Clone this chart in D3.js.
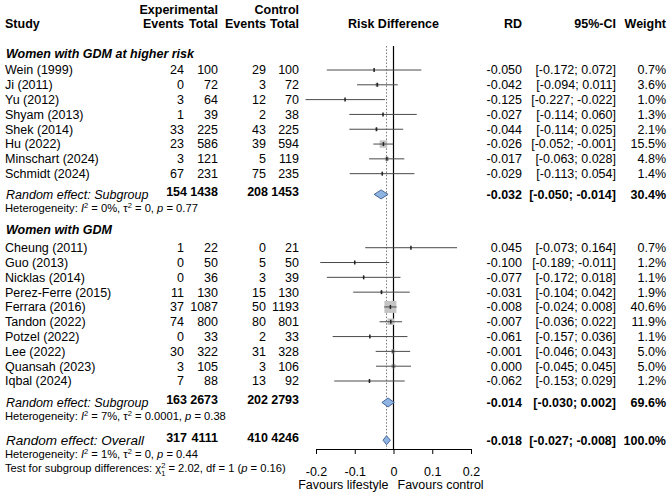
<!DOCTYPE html>
<html>
<head>
<meta charset="utf-8">
<script src="https://cdn.jsdelivr.net/npm/d3@7"></script>
<style>
body { margin: 0; background: #fff; }
svg { font-family: "Liberation Sans", Arial, Helvetica, sans-serif; font-size: 12.5px; }
</style>
</head>
<body>
<script>
// study level data
var studies = ["Wein (1999)", "Ji (2011)", "Yu (2012)", "Shyam (2013)", "Shek (2014)", "Hu (2022)", "Minschart (2024)", "Schmidt (2024)",
               "Cheung (2011)", "Guo (2013)", "Nicklas (2014)", "Perez-Ferre (2015)", "Ferrara (2016)", "Tandon (2022)", "Potzel (2022)", "Lee (2022)", "Quansah (2023)", "Iqbal (2024)"];
var subgroup = [1, 1, 1, 1, 1, 1, 1, 1, 2, 2, 2, 2, 2, 2, 2, 2, 2, 2];
var expEvents = [24, 0, 3, 1, 33, 23, 3, 67, 1, 0, 0, 11, 37, 74, 0, 30, 3, 7];
var expTotal = [100, 72, 64, 39, 225, 586, 121, 231, 22, 50, 36, 130, 1087, 800, 33, 322, 105, 88];
var ctrlEvents = [29, 3, 12, 2, 43, 39, 5, 75, 0, 5, 3, 15, 50, 80, 2, 31, 3, 13];
var ctrlTotal = [100, 72, 70, 38, 225, 594, 119, 235, 21, 50, 39, 130, 1193, 801, 33, 328, 106, 92];
var rd = [-0.050, -0.042, -0.125, -0.027, -0.044, -0.026, -0.017, -0.029, 0.045, -0.100, -0.077, -0.031, -0.008, -0.007, -0.061, -0.001, 0.000, -0.062];
var lower = [-0.172, -0.094, -0.227, -0.114, -0.114, -0.052, -0.063, -0.113, -0.073, -0.189, -0.172, -0.104, -0.024, -0.036, -0.157, -0.046, -0.045, -0.153];
var upper = [0.072, 0.011, -0.022, 0.060, 0.025, -0.001, 0.028, 0.054, 0.164, -0.011, 0.018, 0.042, 0.008, 0.022, 0.036, 0.043, 0.045, 0.029];
var weight = [0.7, 3.6, 1.0, 1.3, 2.1, 15.5, 4.8, 1.4, 0.7, 1.2, 1.1, 1.9, 40.6, 11.9, 1.1, 5.0, 5.0, 1.2];

// pooled estimates: subgroup 1, subgroup 2, overall
var poolLabels = ["Random effect: Subgroup", "Random effect: Subgroup", "Random effect: Overall"];
var poolExpEvents = [154, 163, 317];
var poolExpTotal = [1438, 2673, 4111];
var poolCtrlEvents = [208, 202, 410];
var poolCtrlTotal = [1453, 2793, 4246];
var poolRd = [-0.032, -0.014, -0.018];
var poolLower = [-0.050, -0.030, -0.027];
var poolUpper = [-0.014, 0.002, -0.008];
var poolWeight = [30.4, 69.6, 100.0];
var hetI2 = ["0%", "7%", "1%"];
var hetTau2 = ["0", "0.0001", "0"];
var hetP = ["0.77", "0.38", "0.44"];

var groupTitles = ["Women with GDM at higher risk", "Women with GDM"];
var tickValues = [-0.2, -0.1, 0, 0.1, 0.2];
var tickLabels = ["-0.2", "-0.1", "0", "0.1", "0.2"];

var width = 669, height = 496;
var fmt = d3.formatLocale({decimal: ".", thousands: ",", grouping: [3], currency: ["", ""], minus: "-"}).format(".3f");
var fmtW = function(d) { return d.toFixed(1) + "%"; };
var ciText = function(lo, hi) { return "[" + fmt(lo) + "; " + fmt(hi) + "]"; };

// row positions in "line" units
var studyRow = [0, 1, 2, 3, 4, 5, 6, 7, 12, 13, 14, 15, 16, 17, 18, 19, 20, 21];
var poolRow = [8.4, 22.45, 25.0];
var hetRow = [9.3, 23.4, 25.95];
var titleRow = [-1.13, 10.8];

var y = d3.scaleLinear().domain([0, 21]).range([70, 381]);
var x = d3.scaleLinear().domain([-0.2, 0.2]).range([316, 471]);
var sq = d3.scaleSqrt().domain([0, 40.6]).range([0, 12]);

var col = {study: 5, expEv: 184, expTot: 218, ctrlEv: 266, ctrlTot: 299, rd: 522, ci: 616, w: 666};
var axisY = 449;

var svg = d3.select("body").append("svg")
    .attr("width", width)
    .attr("height", height);

function txt(g, xx, yy, s, anchor) {
    return g.append("text")
        .attr("x", xx)
        .attr("y", yy)
        .attr("dy", "0.35em")
        .attr("text-anchor", anchor || "start")
        .text(s);
}

// headers
var head = svg.append("g").attr("font-weight", "bold");
txt(head, col.expTot, y(-4.05), "Experimental", "end");
txt(head, col.ctrlTot, y(-4.05), "Control", "end");
txt(head, col.study, y(-3.1), "Study");
txt(head, col.expEv, y(-3.1), "Events", "end");
txt(head, col.expTot, y(-3.1), "Total", "end");
txt(head, col.ctrlEv, y(-3.1), "Events", "end");
txt(head, col.ctrlTot, y(-3.1), "Total", "end");
txt(head, x(0), y(-3.1), "Risk Difference", "middle");
txt(head, col.rd, y(-3.1), "RD", "end");
txt(head, col.ci, y(-3.1), "95%-CI", "end");
txt(head, col.w, y(-3.1), "Weight", "end");

// subgroup titles
svg.append("g").selectAll("text")
    .data(groupTitles)
    .enter()
    .append("text")
    .attr("x", 6)
    .attr("y", function(d, i) { return y(titleRow[i]); })
    .attr("dy", "0.35em")
    .attr("font-weight", "bold")
    .attr("font-style", "italic")
    .text(function(d) { return d; });

// study rows (text)
var rows = svg.append("g").selectAll("g")
    .data(studies)
    .enter()
    .append("g")
    .attr("transform", function(d, i) { return "translate(0," + y(studyRow[i]) + ")"; });

var cols = [
    [col.study, "start", function(d, i) { return d; }],
    [col.expEv, "end", function(d, i) { return expEvents[i]; }],
    [col.expTot, "end", function(d, i) { return expTotal[i]; }],
    [col.ctrlEv, "end", function(d, i) { return ctrlEvents[i]; }],
    [col.ctrlTot, "end", function(d, i) { return ctrlTotal[i]; }],
    [col.rd, "end", function(d, i) { return fmt(rd[i]); }],
    [col.ci, "end", function(d, i) { return ciText(lower[i], upper[i]); }],
    [col.w, "end", function(d, i) { return fmtW(weight[i]); }]
];
cols.forEach(function(c) {
    rows.append("text")
        .attr("x", c[0])
        .attr("dy", "0.35em")
        .attr("text-anchor", c[1])
        .text(c[2]);
});

// reference lines
svg.append("line")
    .attr("x1", x(poolRd[2])).attr("x2", x(poolRd[2]))
    .attr("y1", 46).attr("y2", axisY)
    .attr("stroke", "#777")
    .attr("stroke-width", 1)
    .attr("stroke-dasharray", "1.5,1.8");
svg.append("line")
    .attr("x1", x(0)).attr("x2", x(0))
    .attr("y1", 46).attr("y2", axisY)
    .attr("stroke", "#000")
    .attr("stroke-width", 1.2);

// squares, CI lines, point markers
var marks = svg.append("g");
marks.selectAll("rect.sq")
    .data(studies)
    .enter()
    .append("rect")
    .attr("class", "sq")
    .attr("x", function(d, i) { return x(rd[i]) - sq(weight[i]) / 2; })
    .attr("y", function(d, i) { return y(studyRow[i]) - sq(weight[i]) / 2; })
    .attr("width", function(d, i) { return sq(weight[i]); })
    .attr("height", function(d, i) { return sq(weight[i]); })
    .attr("fill", "#c4c4c4");
marks.selectAll("line.ci")
    .data(studies)
    .enter()
    .append("line")
    .attr("class", "ci")
    .attr("x1", function(d, i) { return x(lower[i]); })
    .attr("x2", function(d, i) { return x(upper[i]); })
    .attr("y1", function(d, i) { return y(studyRow[i]); })
    .attr("y2", function(d, i) { return y(studyRow[i]); })
    .attr("stroke", "#4a4a4a")
    .attr("stroke-width", 1);
marks.selectAll("line.pt")
    .data(studies)
    .enter()
    .append("line")
    .attr("class", "pt")
    .attr("x1", function(d, i) { return x(rd[i]); })
    .attr("x2", function(d, i) { return x(rd[i]); })
    .attr("y1", function(d, i) { return y(studyRow[i]) - 2; })
    .attr("y2", function(d, i) { return y(studyRow[i]) + 2; })
    .attr("stroke", "#222")
    .attr("stroke-width", 1.5);

// diamonds
svg.append("g").selectAll("path")
    .data(poolRd)
    .enter()
    .append("path")
    .attr("d", function(d, i) {
        var yy = y(poolRow[i]), h = 4.5;
        return "M" + x(poolLower[i]) + "," + yy +
               "L" + x(d) + "," + (yy - h) +
               "L" + x(poolUpper[i]) + "," + yy +
               "L" + x(d) + "," + (yy + h) + "Z";
    })
    .attr("fill", "#8db4e3")
    .attr("stroke", "#3d5b8c")
    .attr("stroke-width", 0.9);

// pooled rows (text)
var pool = svg.append("g").selectAll("g")
    .data(poolLabels)
    .enter()
    .append("g")
    .attr("transform", function(d, i) { return "translate(0," + y(poolRow[i]) + ")"; });
pool.append("text")
    .attr("x", col.study + 1)
    .attr("dy", "0.35em")
    .attr("font-style", "italic")
    .attr("font-size", function(d, i) { return i == 2 ? "13.5px" : "12.5px"; })
    .text(function(d) { return d; });
var poolCols = [
    [col.expEv + 3, function(d, i) { return poolExpEvents[i]; }],
    [col.expTot, function(d, i) { return poolExpTotal[i]; }],
    [col.ctrlEv + 2, function(d, i) { return poolCtrlEvents[i]; }],
    [col.ctrlTot, function(d, i) { return poolCtrlTotal[i]; }],
    [col.rd, function(d, i) { return fmt(poolRd[i]); }],
    [col.ci, function(d, i) { return ciText(poolLower[i], poolUpper[i]); }],
    [col.w, function(d, i) { return fmtW(poolWeight[i]); }]
];
poolCols.forEach(function(c, k) {
    pool.append("text")
        .attr("x", c[0])
        .attr("dy", k < 4 ? "0.15em" : "0.35em")
        .attr("text-anchor", "end")
        .attr("font-weight", "bold")
        .text(c[1]);
});

// heterogeneity lines
function supText(t, s) {
    t.append("tspan").attr("dy", -4).attr("font-size", "7.5px").text(s);
    return t.append("tspan").attr("dy", 4);
}
hetI2.forEach(function(v, i) {
    var t = svg.append("text")
        .attr("x", col.study)
        .attr("y", y(hetRow[i]))
        .attr("dy", "0.35em")
        .attr("font-size", "11.2px");
    t.append("tspan").text("Heterogeneity: ");
    t.append("tspan").attr("font-style", "italic").text("I");
    supText(t, "2").text(" = " + v + ", \u03c4");
    supText(t, "2").text(" = " + hetTau2[i] + ", ");
    t.append("tspan").attr("font-style", "italic").text("p");
    t.append("tspan").text(" = " + hetP[i]);
});

// test for subgroup differences
var tt = svg.append("text")
    .attr("x", col.study)
    .attr("y", y(26.9))
    .attr("dy", "0.35em")
    .attr("font-size", "11.2px");
tt.append("tspan").text("Test for subgroup differences: \u03c7");
tt.append("tspan").attr("dy", -4).attr("font-size", "7.5px").text("2");
tt.append("tspan").attr("dx", -4.2).attr("dy", 8).attr("font-size", "7.5px").text("1");
tt.append("tspan").attr("dy", -4).text(" = 2.02, df = 1 (");
tt.append("tspan").attr("font-style", "italic").text("p");
tt.append("tspan").text(" = 0.16)");

// axis
var axisG = svg.append("g")
    .attr("transform", "translate(0," + axisY + ")")
    .call(d3.axisBottom(x)
        .tickValues(tickValues)
        .tickFormat(function(d, i) { return tickLabels[i]; })
        .tickSize(5)
        .tickSizeOuter(0)
        .tickPadding(13));
axisG.attr("font-size", "12.5px").attr("font-family", null);
axisG.selectAll("line, path").attr("stroke", "#000");

var fav = svg.append("g");
txt(fav, x(0) - 5, 485, "Favours lifestyle", "end");
txt(fav, x(0) + 4, 485, "Favours control", "start");
</script>
</body>
</html>
